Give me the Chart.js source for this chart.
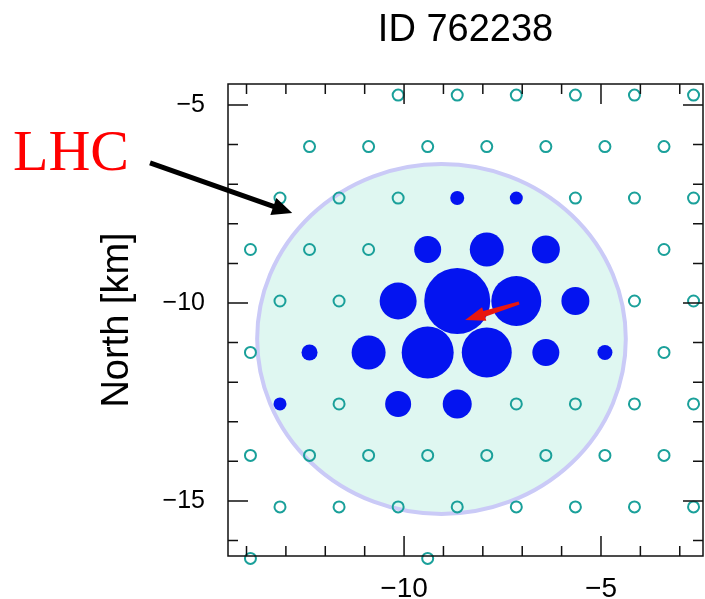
<!DOCTYPE html>
<html>
<head>
<meta charset="utf-8">
<script src="https://cdn.jsdelivr.net/npm/chart.js@4"></script>
<style>
  html, body { margin: 0; padding: 0; background: #fff; }
  #wrap { position: relative; width: 705px; height: 599px; }
  #lhc {
    position: absolute; left: 13px; top: 122px;
    font-family: "Liberation Serif", "Times New Roman", serif;
    font-size: 58px; line-height: 1; color: #ff0000;
  }
</style>
</head>
<body>
<div id="wrap">
  <canvas id="c" width="705" height="599"></canvas>
  <div id="lhc">LHC</div>
</div>
<script>
// axis ranges and tick labels (km)
const xRange = [-14.47, -2.41];
const yRange = [-16.39, -4.47];
const xTicks = [-10, -5];
const yTicks = [-15, -10, -5];

// detector stations without signal (hollow)
const stationX = [
  -10.15, -8.65, -7.15, -5.65, -4.15, -2.65,
  -12.4, -10.9, -9.4, -7.9, -6.4, -4.9, -3.4,
  -13.15, -11.65, -10.15, -5.65, -4.15, -2.65,
  -13.9, -12.4, -10.9, -3.4,
  -13.15, -11.65, -4.15, -2.65,
  -13.9, -3.4,
  -11.65, -7.15, -5.65, -4.15, -2.65,
  -13.9, -12.4, -10.9, -9.4, -7.9, -6.4, -4.9, -3.4,
  -13.15, -11.65, -10.15, -8.65, -7.15, -5.65, -4.15, -2.65,
  -13.9, -9.4
];
const stationY = [
  -4.75, -4.75, -4.75, -4.75, -4.75, -4.75,
  -6.05, -6.05, -6.05, -6.05, -6.05, -6.05, -6.05,
  -7.35, -7.35, -7.35, -7.35, -7.35, -7.35,
  -8.65, -8.65, -8.65, -8.65,
  -9.95, -9.95, -9.95, -9.95,
  -11.25, -11.25,
  -12.55, -12.55, -12.55, -12.55, -12.55,
  -13.85, -13.85, -13.85, -13.85, -13.85, -13.85, -13.85, -13.85,
  -15.15, -15.15, -15.15, -15.15, -15.15, -15.15, -15.15, -15.15,
  -16.45, -16.45
];

// triggered stations, marker size ~ signal
const hitX = [-8.65, -7.15, -9.4, -7.9, -6.4, -10.15, -8.65, -7.15, -5.65,
              -12.4, -10.9, -9.4, -7.9, -6.4, -4.9, -13.15, -10.15, -8.65];
const hitY = [-7.35, -7.35, -8.65, -8.65, -8.65, -9.95, -9.95, -9.95, -9.95,
              -11.25, -11.25, -11.25, -11.25, -11.25, -11.25, -12.55, -12.55, -12.55];
const hitSignal = [7, 6.5, 13.5, 17, 14, 18.5, 33, 25, 14,
                   8, 17, 26, 25, 13.5, 7.5, 6.5, 13, 14.5];

// LHC footprint (centre, radii in km)
const lhcCenter = [-9.05, -10.91];
const lhcRadius = [4.68, 4.42];

// shower axis arrow (tail -> core)
const coreArrowX = [-7.08, -8.45];
const coreArrowY = [-10.0, -10.43];

// label pointer arrow (tail -> tip)
const lhcArrowX = [-16.45, -12.84];
const lhcArrowY = [-6.46, -7.73];

function drawArrow(ctx, x0, y0, x1, y1, w0, w1, headLen, headHalf, color) {
  const a = Math.atan2(y1 - y0, x1 - x0);
  const L = Math.hypot(x1 - x0, y1 - y0);
  ctx.save();
  ctx.translate(x0, y0);
  ctx.rotate(a);
  ctx.beginPath();
  ctx.moveTo(0, -w0 / 2);
  ctx.lineTo(L - headLen, -w1 / 2);
  ctx.lineTo(L - headLen, -headHalf);
  ctx.lineTo(L, 0);
  ctx.lineTo(L - headLen, headHalf);
  ctx.lineTo(L - headLen, w1 / 2);
  ctx.lineTo(0, w0 / 2);
  ctx.closePath();
  ctx.fillStyle = color;
  ctx.fill();
  ctx.restore();
}

const decor = {
  id: 'decor',
  beforeDatasetsDraw(chart) {
    const { ctx, scales: { x, y } } = chart;
    const cx = x.getPixelForValue(lhcCenter[0]);
    const cy = y.getPixelForValue(lhcCenter[1]);
    const rx = Math.abs(x.getPixelForValue(lhcCenter[0] + lhcRadius[0]) - cx);
    const ry = Math.abs(y.getPixelForValue(lhcCenter[1] + lhcRadius[1]) - cy);
    ctx.save();
    ctx.beginPath();
    ctx.ellipse(cx, cy, rx, ry, 0, 0, Math.PI * 2);
    ctx.fillStyle = '#dff7f1';
    ctx.fill();
    ctx.lineWidth = 4;
    ctx.strokeStyle = '#cacaf7';
    ctx.stroke();
    ctx.restore();
  },
  afterDatasetsDraw(chart) {
    const { ctx, chartArea: a, scales: { x, y } } = chart;
    ctx.save();
    // frame
    ctx.strokeStyle = '#111';
    ctx.lineWidth = 1.5;
    ctx.strokeRect(a.left, a.top, a.right - a.left, a.bottom - a.top);
    // inward ticks on all four sides
    ctx.beginPath();
    for (let v = Math.ceil(x.min); v <= Math.floor(x.max); v++) {
      const px = x.getPixelForValue(v);
      const len = xTicks.includes(v) ? 20 : 10;
      ctx.moveTo(px, a.bottom); ctx.lineTo(px, a.bottom - len);
      ctx.moveTo(px, a.top); ctx.lineTo(px, a.top + len);
    }
    for (let v = Math.ceil(y.min); v <= Math.floor(y.max); v++) {
      const py = y.getPixelForValue(v);
      const len = yTicks.includes(v) ? 20 : 10;
      ctx.moveTo(a.left, py); ctx.lineTo(a.left + len, py);
      ctx.moveTo(a.right, py); ctx.lineTo(a.right - len, py);
    }
    ctx.stroke();
    ctx.restore();

    drawArrow(ctx,
      x.getPixelForValue(coreArrowX[0]), y.getPixelForValue(coreArrowY[0]),
      x.getPixelForValue(coreArrowX[1]), y.getPixelForValue(coreArrowY[1]),
      3, 6, 20, 7, '#e8170f');
  },
  afterDraw(chart) {
    const { ctx, scales: { x, y } } = chart;
    drawArrow(ctx,
      x.getPixelForValue(lhcArrowX[0]), y.getPixelForValue(lhcArrowY[0]),
      x.getPixelForValue(lhcArrowX[1]), y.getPixelForValue(lhcArrowY[1]),
      5, 5, 20, 9, '#000');
  }
};

const fmt = v => (v < 0 ? '\u2212' : '') + Math.abs(v);

new Chart(document.getElementById('c'), {
  type: 'scatter',
  data: {
    datasets: [
      {
        type: 'scatter',
        label: 'stations',
        data: stationX.map((v, i) => ({ x: v, y: stationY[i] })),
        pointStyle: 'circle',
        pointRadius: 5.5,
        pointBorderWidth: 2,
        pointBorderColor: '#1aa09a',
        pointBackgroundColor: 'rgba(0,0,0,0)',
        clip: false,
        order: 2
      },
      {
        type: 'bubble',
        label: 'hits',
        data: hitX.map((v, i) => ({ x: v, y: hitY[i], r: hitSignal[i] })),
        backgroundColor: '#0414f0',
        borderWidth: 0,
        hoverRadius: 0,
        clip: false,
        order: 1
      }
    ]
  },
  options: {
    responsive: false,
    animation: false,
    events: [],
    layout: { autoPadding: false, padding: { left: 0, right: 2, top: 0, bottom: 0 } },
    plugins: {
      legend: { display: false },
      tooltip: { enabled: false },
      title: {
        display: true,
        text: 'ID 762238',
        fullSize: false,
        color: '#000',
        font: { family: 'Liberation Sans', size: 38, weight: 'normal' },
        padding: { top: 8, bottom: 30.4 }
      }
    },
    scales: {
      x: {
        type: 'linear',
        min: xRange[0],
        max: xRange[1],
        grid: { display: false, drawTicks: false },
        border: { display: false },
        ticks: {
          includeBounds: false,
          color: '#000',
          padding: 16,
          font: { family: 'Liberation Sans', size: 28 },
          callback: fmt
        },
        afterBuildTicks: s => { s.ticks = xTicks.map(v => ({ value: v })); },
        afterFit: s => { s.height = 43; s.paddingLeft = 0; s.paddingRight = 0; }
      },
      y: {
        type: 'linear',
        min: yRange[0],
        max: yRange[1],
        grid: { display: false, drawTicks: false },
        border: { display: false },
        ticks: {
          includeBounds: false,
          color: '#000',
          padding: 23,
          font: { family: 'Liberation Sans', size: 25 },
          callback: fmt
        },
        title: {
          display: true,
          text: 'North [km]',
          color: '#000',
          font: { family: 'Liberation Sans', size: 38 },
          padding: { top: 95, bottom: 0 }
        },
        afterBuildTicks: s => { s.ticks = yTicks.map(v => ({ value: v })); },
        afterFit: s => { s.width = 228; s.paddingTop = 0; s.paddingBottom = 0; }
      }
    }
  },
  plugins: [decor]
});
</script>
</body>
</html>
